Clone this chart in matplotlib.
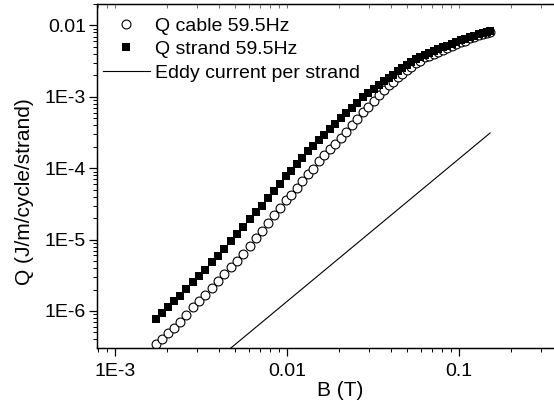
import matplotlib
matplotlib.use("Agg")
import matplotlib.pyplot as plt
from matplotlib.ticker import LogLocator, FixedLocator, FixedFormatter, NullFormatter

plt.rcParams['font.family'] = ['Liberation Sans', 'DejaVu Sans']

# field amplitude (T), same for both measured series
B = [1.732e-3, 1.876e-3, 2.033e-3, 2.203e-3, 2.387e-3, 2.587e-3, 2.841e-3, 3.079e-3,
     3.336e-3, 3.665e-3, 3.971e-3, 4.303e-3, 4.726e-3, 5.121e-3, 5.549e-3, 6.095e-3,
     6.605e-3, 7.157e-3, 7.755e-3, 8.403e-3, 9.106e-3, 9.867e-3, 1.055e-2, 1.143e-2,
     1.222e-2, 1.325e-2, 1.416e-2, 1.535e-2, 1.641e-2, 1.778e-2, 1.901e-2, 2.060e-2,
     2.203e-2, 2.387e-2, 2.553e-2, 2.766e-2, 2.958e-2, 3.205e-2, 3.427e-2, 3.665e-2,
     3.918e-2, 4.134e-2, 4.420e-2, 4.663e-2, 4.986e-2, 5.260e-2, 5.623e-2, 5.933e-2,
     6.343e-2, 6.692e-2, 7.157e-2, 7.550e-2, 8.073e-2, 8.516e-2, 9.106e-2, 9.607e-2,
     0.1027, 0.1084, 0.1159, 0.1222, 0.1307, 0.1379, 0.1455, 0.1514]

Q_cable = [3.461e-7, 4.066e-7, 4.935e-7, 5.798e-7, 7.036e-7, 8.82e-7, 1.141e-6, 1.385e-6,
           1.680e-6, 2.106e-6, 2.640e-6, 3.254e-6, 4.145e-6, 5.031e-6, 6.205e-6, 8.163e-6,
           1.056e-5, 1.323e-5, 1.713e-5, 2.182e-5, 2.780e-5, 3.540e-5, 4.227e-5, 5.298e-5,
           6.533e-5, 8.188e-5, 9.777e-5, 1.265e-4, 1.536e-4, 1.863e-4, 2.154e-4, 2.657e-4,
           3.225e-4, 4.040e-4, 4.826e-4, 6.046e-4, 7.220e-4, 8.76e-4, 1.063e-3, 1.249e-3,
           1.444e-3, 1.617e-3, 1.900e-3, 2.093e-3, 2.381e-3, 2.623e-3, 2.936e-3, 3.185e-3,
           3.563e-3, 3.739e-3, 3.988e-3, 4.185e-3, 4.538e-3, 4.840e-3, 5.163e-3, 5.418e-3,
           5.778e-3, 6.066e-3, 6.574e-3, 6.901e-3, 7.244e-3, 7.603e-3, 7.852e-3, 8.110e-3]

Q_strand = [7.75e-7, 9.40e-7, 1.141e-6, 1.363e-6, 1.627e-6, 2.040e-6, 2.556e-6, 3.101e-6,
            3.763e-6, 4.872e-6, 5.910e-6, 7.407e-6, 9.590e-6, 1.202e-5, 1.482e-5, 1.919e-5,
            2.404e-5, 2.965e-5, 3.776e-5, 4.810e-5, 6.027e-5, 7.677e-5, 9.167e-5, 1.149e-4,
            1.372e-4, 1.719e-4, 2.052e-4, 2.491e-4, 2.927e-4, 3.551e-4, 4.173e-4, 5.064e-4,
            5.950e-4, 6.990e-4, 8.215e-4, 9.808e-4, 1.116e-3, 1.290e-3, 1.444e-3, 1.643e-3,
            1.839e-3, 2.026e-3, 2.305e-3, 2.540e-3, 2.797e-3, 3.032e-3, 3.341e-3, 3.621e-3,
            3.863e-3, 4.120e-3, 4.395e-3, 4.612e-3, 4.920e-3, 5.163e-3, 5.507e-3, 5.778e-3,
            6.165e-3, 6.470e-3, 6.901e-3, 7.127e-3, 7.481e-3, 7.852e-3, 8.110e-3, 8.375e-3]

# eddy current estimate, straight line (Q ~ B^2)
B_eddy = [1.732e-3, 0.1514]
Q_eddy = [4.1e-8, 3.12e-4]

yticks = [1e-6, 1e-5, 1e-4, 1e-3, 1e-2]
ylabels = ['1E-6', '1E-5', '1E-4', '1E-3', '0.01']
xticks = [1e-3, 1e-2, 1e-1]
xlabels = ['1E-3', '0.01', '0.1']

fig = plt.figure(figsize=(5.54, 4.03), dpi=100)
ax = fig.add_axes([97/554, 55/403, 457/554, 344/403])

# squares drawn over the circles where the two series meet
ax.plot(B, Q_cable, 'o', ms=6.4, mfc='white', mec='black', mew=0.8,
        label='Q cable 59.5Hz', zorder=2)
ax.plot(B, Q_strand, 's', ms=6.3, mfc='black', mec='black', mew=0,
        label='Q strand 59.5Hz', zorder=3)
ax.plot(B_eddy, Q_eddy, '-', color='black', lw=0.8, label='Eddy current per strand')

ax.set_xscale('log')
ax.set_yscale('log')
ax.set_xlim(7.85e-4, 0.356)
ax.set_ylim(3.03e-7, 0.02)

ax.yaxis.set_major_locator(FixedLocator(yticks))
ax.yaxis.set_major_formatter(FixedFormatter(ylabels))
ax.xaxis.set_major_locator(FixedLocator(xticks))
ax.xaxis.set_major_formatter(FixedFormatter(xlabels))
ax.xaxis.set_minor_locator(LogLocator(base=10, subs=range(2, 10)))
ax.yaxis.set_minor_locator(LogLocator(base=10, subs=range(2, 10)))
ax.xaxis.set_minor_formatter(NullFormatter())
ax.yaxis.set_minor_formatter(NullFormatter())

ax.tick_params(which='major', direction='out', length=6, width=0.9, labelsize=14)
ax.tick_params(axis='x', which='major', pad=5)
ax.tick_params(axis='y', which='major', pad=2)
ax.tick_params(which='minor', direction='out', length=3, width=0.7)

# small inward ticks along the top frame
top = ax.twiny()
top.set_xscale('log')
top.set_xlim(ax.get_xlim())
top.xaxis.set_major_locator(FixedLocator(xticks))
top.xaxis.set_minor_locator(LogLocator(base=10, subs=range(2, 10)))
top.xaxis.set_major_formatter(NullFormatter())
top.xaxis.set_minor_formatter(NullFormatter())
top.tick_params(which='both', direction='in', length=3, width=0.6, color='#555555')
top.spines['right'].set_visible(False)

ax.spines['right'].set_visible(False)
for s in ['left', 'bottom', 'top']:
    ax.spines[s].set_linewidth(1.0)

ax.set_xlabel('B (T)', fontsize=15)
ax.xaxis.set_label_coords(0.532, -0.097)
ax.set_ylabel('Q (J/m/cycle/strand)', fontsize=15)
ax.yaxis.set_label_coords(-0.138, 0.455)

ax.legend(loc='upper left', bbox_to_anchor=(6/457, 1 - 13/344), frameon=False, fontsize=14,
          handlelength=2.4, handletextpad=0.28, labelspacing=0.3, borderaxespad=0,
          borderpad=0)

fig.savefig('out.png', dpi=100)
